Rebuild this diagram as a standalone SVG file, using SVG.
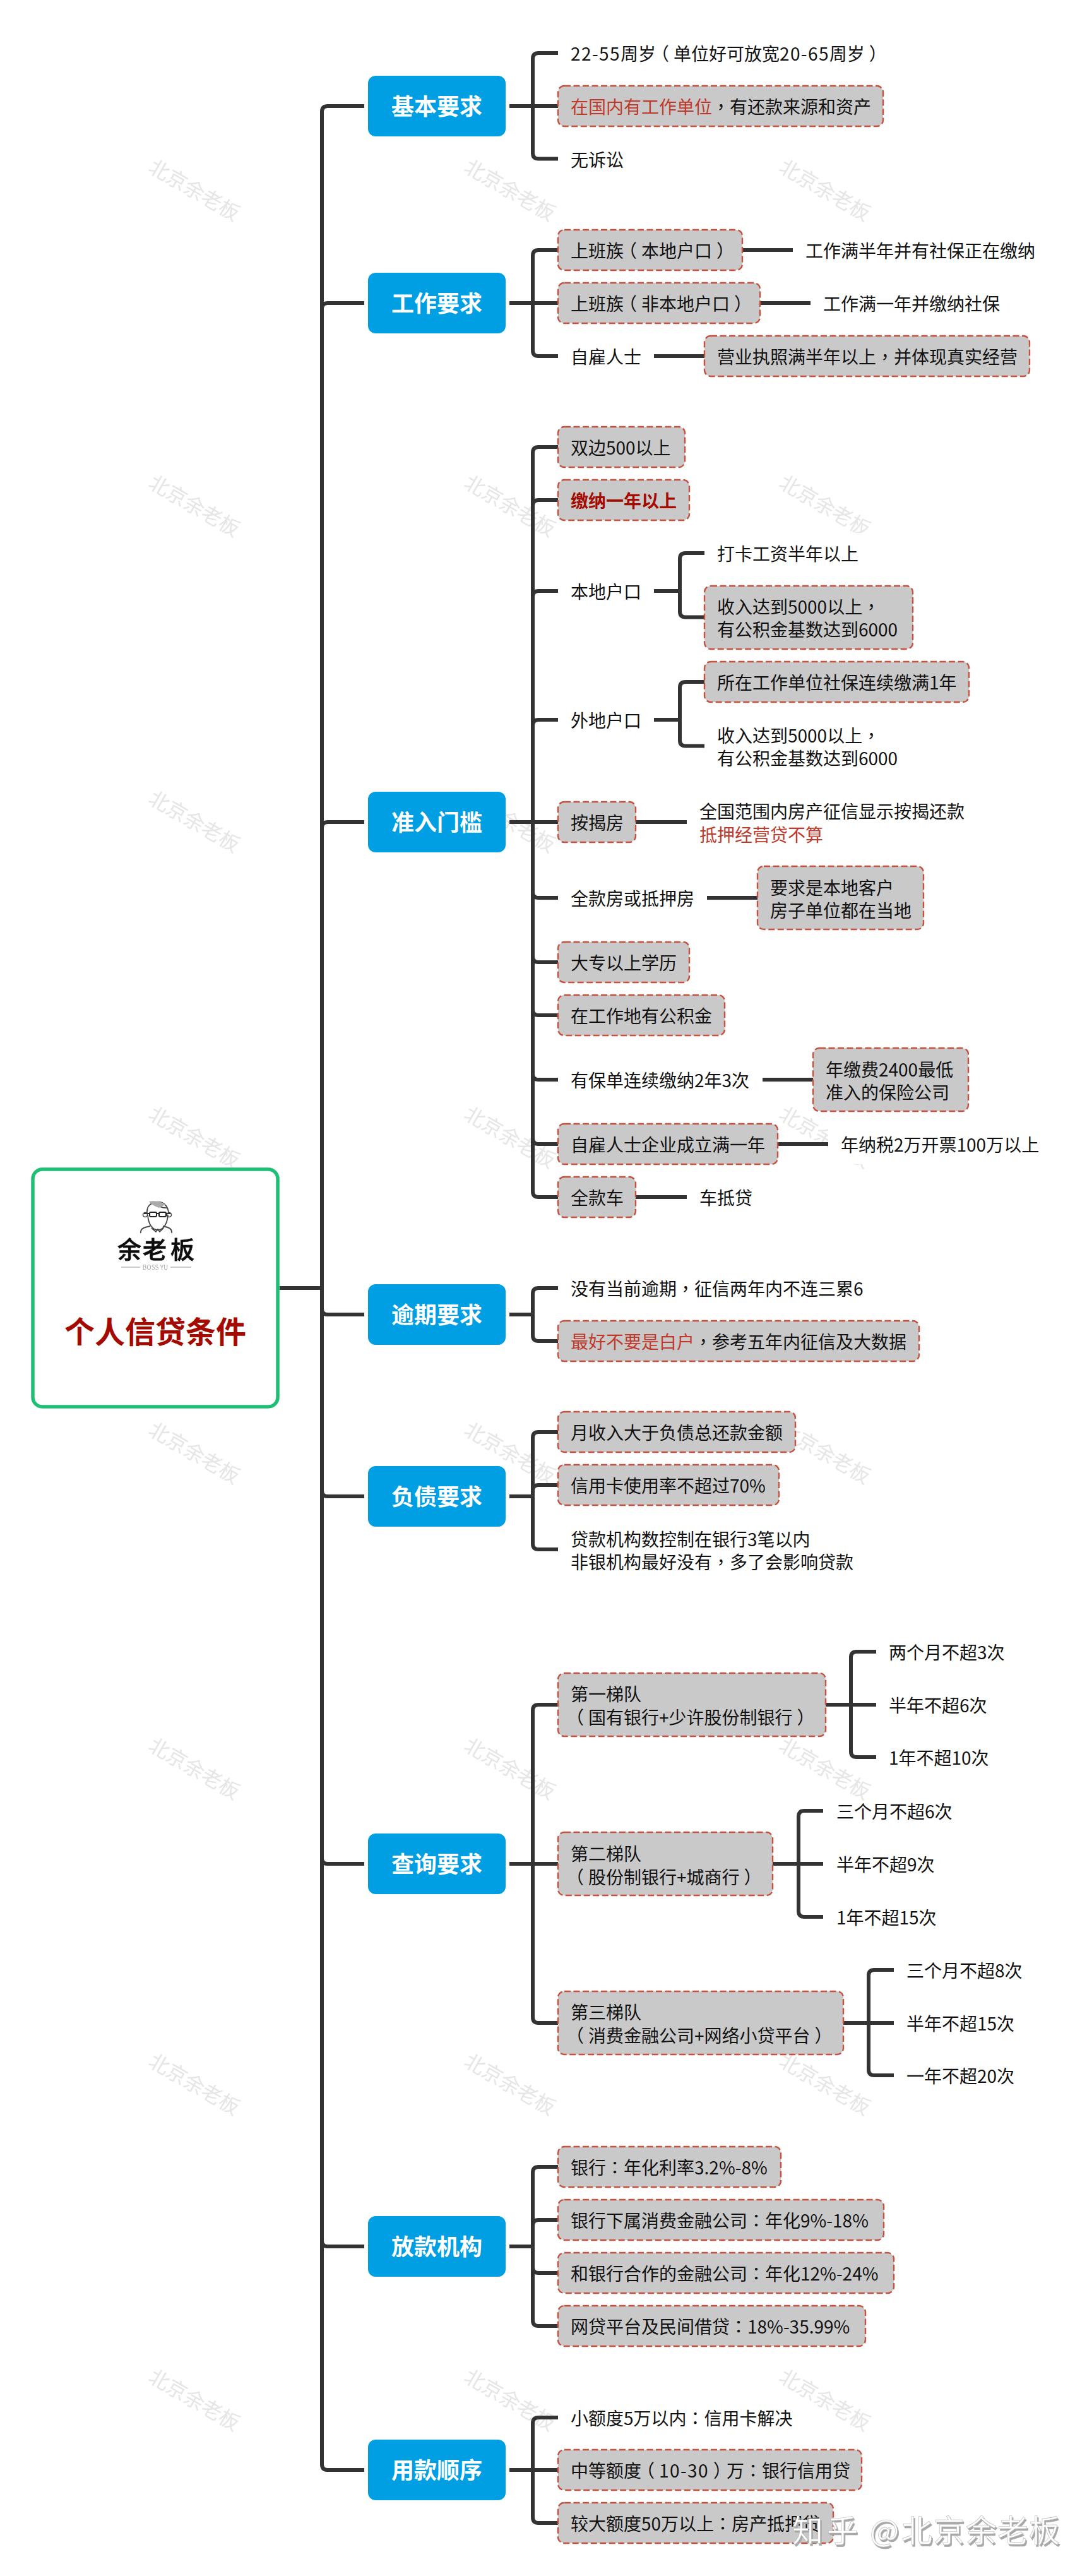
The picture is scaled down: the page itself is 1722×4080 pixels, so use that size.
<svg xmlns="http://www.w3.org/2000/svg" width="1722" height="4080" viewBox="0 0 1722 4080">
<style>
text{font-family:"Noto Sans CJK SC","Liberation Sans",sans-serif;font-size:28px;fill:#111}
.q{font-family:"Noto Sans CJK TC","Noto Sans CJK SC",sans-serif}
.n{letter-spacing:1.4px}
.wm{font-size:32px;fill:#e6e6e6;text-anchor:middle}
.c{fill:none;stroke:#333;stroke-width:6}
.b{fill:#009ee3}
.bt{font-size:36px;font-weight:700;fill:#fff;text-anchor:middle}
.d{fill:#c9c9c9;stroke:#c9503f;stroke-width:2.4;stroke-dasharray:10 4.5}
.p{fill:#fff}
.r{fill:#c0392b}
.zh{font-size:49px;fill:#fff;stroke:#b5b5b5;stroke-width:.6;filter:url(#zs)}
</style>
<defs>
<filter id="zs" x="-5%" y="-20%" width="110%" height="140%"><feDropShadow dx="2" dy="3" stdDeviation="0" flood-color="#a8a8a8"/></filter>
<filter id="soft" x="-10%" y="-10%" width="120%" height="120%"><feGaussianBlur stdDeviation="0.5"/></filter>
</defs>
<rect width="1722" height="4080" fill="#fff"/>
<g id="watermarks">
<text class="wm" transform="translate(302 311) rotate(30)">北京余老板</text><text class="wm" transform="translate(802 311) rotate(30)">北京余老板</text><text class="wm" transform="translate(1301 311) rotate(30)">北京余老板</text>
<text class="wm" transform="translate(302 811) rotate(30)">北京余老板</text><text class="wm" transform="translate(802 811) rotate(30)">北京余老板</text><text class="wm" transform="translate(1301 811) rotate(30)">北京余老板</text>
<text class="wm" transform="translate(302 1311) rotate(30)">北京余老板</text><text class="wm" transform="translate(802 1311) rotate(30)">北京余老板</text><text class="wm" transform="translate(1301 1311) rotate(30)">北京余老板</text>
<text class="wm" transform="translate(302 1811) rotate(30)">北京余老板</text><text class="wm" transform="translate(802 1811) rotate(30)">北京余老板</text><text class="wm" transform="translate(1301 1811) rotate(30)">北京余老板</text>
<text class="wm" transform="translate(302 2311) rotate(30)">北京余老板</text><text class="wm" transform="translate(802 2311) rotate(30)">北京余老板</text><text class="wm" transform="translate(1301 2311) rotate(30)">北京余老板</text>
<text class="wm" transform="translate(302 2811) rotate(30)">北京余老板</text><text class="wm" transform="translate(802 2811) rotate(30)">北京余老板</text><text class="wm" transform="translate(1301 2811) rotate(30)">北京余老板</text>
<text class="wm" transform="translate(302 3311) rotate(30)">北京余老板</text><text class="wm" transform="translate(802 3311) rotate(30)">北京余老板</text><text class="wm" transform="translate(1301 3311) rotate(30)">北京余老板</text>
<text class="wm" transform="translate(302 3811) rotate(30)">北京余老板</text><text class="wm" transform="translate(802 3811) rotate(30)">北京余老板</text><text class="wm" transform="translate(1301 3811) rotate(30)">北京余老板</text>
</g>
<g id="connectors">
<path class="c" d="M443 2040H510M577 168H519Q510 168 510 177V3903Q510 3912 519 3912H577"/>
<path class="c" d="M510 489Q510 480 519 480H577M510 1311Q510 1302 519 1302H577M510 2073Q510 2082 519 2082H577M510 2361Q510 2370 519 2370H577M510 2943Q510 2952 519 2952H577M510 3549Q510 3558 519 3558H577"/>
<path class="c" d="M807 168H884M884 84H853Q844 84 844 93V242.500Q844 251.500 853 251.500H884"/>
<path class="c" d="M807 480H884M884 396H853Q844 396 844 405V555Q844 564 853 564H884M1176 396H1256M1204 480H1284M1036 564H1116"/>
<path class="c" d="M807 1302H884M884 708H853Q844 708 844 717V1887Q844 1896 853 1896H884M844 801Q844 792 853 792H884M844 945Q844 936 853 936H884M844 1149Q844 1140 853 1140H884M844 1413Q844 1422 853 1422H884M844 1515Q844 1524 853 1524H884M844 1599Q844 1608 853 1608H884M844 1701Q844 1710 853 1710H884M844 1803Q844 1812 853 1812H884"/>
<path class="c" d="M1036 936H1077M1116 876H1086Q1077 876 1077 885V968.500Q1077 977.500 1086 977.500H1116M1036 1140H1077M1116 1080H1086Q1077 1080 1077 1089V1172.500Q1077 1181.500 1086 1181.500H1116"/>
<path class="c" d="M1007 1302H1088M1120 1422H1200M1208 1710H1288M1232 1812H1312M1007 1896H1088"/>
<path class="c" d="M807 2082H844M884 2040H853Q844 2040 844 2049V2115Q844 2124 853 2124H884"/>
<path class="c" d="M807 2370H844M884 2268H853Q844 2268 844 2277V2445Q844 2454 853 2454H884M844 2361Q844 2352 853 2352H884"/>
<path class="c" d="M807 2952H884M884 2700H853Q844 2700 844 2709V3195Q844 3204 853 3204H884"/>
<path class="c" d="M1307 2700H1388M1388 2616H1357Q1348 2616 1348 2625V2774Q1348 2783 1357 2783H1388"/>
<path class="c" d="M1224 2952H1304M1304 2868H1274Q1265 2868 1265 2877V3027Q1265 3036 1274 3036H1304"/>
<path class="c" d="M1336 3204H1416M1416 3120H1385Q1376 3120 1376 3129V3278Q1376 3287 1385 3287H1416"/>
<path class="c" d="M807 3558H844M884 3432H853Q844 3432 844 3441V3675Q844 3684 853 3684H884M844 3525Q844 3516 853 3516H884M844 3591Q844 3600 853 3600H884"/>
<path class="c" d="M807 3912H884M884 3829H853Q844 3829 844 3838V3987Q844 3996 853 3996H884"/>
</g>
<g id="root">
<rect x="52" y="1852" width="388" height="376" rx="15" fill="#fff" stroke="#1fbf75" stroke-width="5.500"/>
<g id="logo" filter="url(#soft)">
<path d="M233 1922C232 1910 238 1906 247 1904C258 1902 267 1910 267 1922M242 1903C248 1910 258 1914 265 1913M234 1924C235 1940 242 1948 250 1948C258 1948 265 1940 266 1924" fill="none" stroke="#444" stroke-width="1.800"/>
<path d="M236 1903C244 1901 256 1903 262 1908L252 1913C246 1911 240 1908 236 1903Z" fill="#aaa"/>
<rect x="237" y="1920" width="11" height="7" rx="2" fill="none" stroke="#222" stroke-width="2"/>
<rect x="252" y="1920" width="11" height="7" rx="2" fill="none" stroke="#222" stroke-width="2"/>
<path d="M248 1922H252M237 1922H228M263 1922H270" stroke="#222" stroke-width="1.800" fill="none"/>
<circle cx="230" cy="1924" r="3.500" fill="none" stroke="#444" stroke-width="1.500"/><circle cx="268" cy="1924" r="3.500" fill="none" stroke="#444" stroke-width="1.500"/>
<path d="M223 1953C222 1946 228 1944 238 1942M272 1953C273 1946 267 1944 258 1942M240 1945L247 1951L250 1947L253 1951L259 1945" fill="none" stroke="#444" stroke-width="1.800"/>
<text x="186 226 270" y="1993" style="font-size:38px;font-weight:500;fill:#111;stroke:#111;stroke-width:.7">余老板</text>
<path d="M192 2007H222M270 2007H303" stroke="#999" stroke-width="1.200"/>
<text x="246" y="2011" style="font-size:10px;fill:#aaa;text-anchor:middle">BOSS YU</text>
</g>
<text x="246" y="2127" style="font-size:48px;font-weight:700;fill:#a50a00;text-anchor:middle">个人信贷条件</text>
</g>

<g id="b1"><rect class="b" x="583" y="120" width="218" height="96" rx="12"/><text class="bt" x="692" y="182">基本要求</text></g>
<g id="n1a"><rect class="p" x="884" y="52" width="516" height="64"/><text x="904" y="96"><tspan class="n">22-55</tspan>周岁<tspan dx="-7">（</tspan><tspan dx="7">单</tspan>位好可放宽<tspan class="n">20-65</tspan>周岁<tspan dx="7">）</tspan></text></g>
<g id="n1b"><rect class="d" x="884" y="136" width="515" height="64" rx="10"/><text x="904" y="180"><tspan class="r">在国内有工作单位</tspan><tspan class="q">，</tspan>有还款来源和资产</text></g>
<g id="n1c"><rect class="p" x="884" y="220" width="132" height="64"/><text x="904" y="264">无诉讼</text></g>

<g id="b2"><rect class="b" x="583" y="432" width="218" height="96" rx="12"/><text class="bt" x="692" y="494">工作要求</text></g>
<g id="n2a"><rect class="d" x="884" y="364" width="292" height="64" rx="10"/><text x="904" y="408">上班族<tspan dx="-7">（</tspan><tspan dx="7">本</tspan>地户口<tspan dx="7">）</tspan></text></g>
<g id="n2a1"><text x="1276" y="408">工作满半年并有社保正在缴纳</text></g>
<g id="n2b"><rect class="d" x="884" y="448" width="320" height="64" rx="10"/><text x="904" y="492">上班族<tspan dx="-7">（</tspan><tspan dx="7">非</tspan>本地户口<tspan dx="7">）</tspan></text></g>
<g id="n2b1"><text x="1304" y="492">工作满一年并缴纳社保</text></g>
<g id="n2c"><text x="904" y="576">自雇人士</text></g>
<g id="n2c1"><rect class="d" x="1116" y="532" width="515" height="64" rx="10"/><text x="1136" y="576">营业执照满半年以上<tspan class="q">，</tspan>并体现真实经营</text></g>

<g id="b3"><rect class="b" x="583" y="1254" width="218" height="96" rx="12"/><text class="bt" x="692" y="1316">准入门槛</text></g>
<g id="n3a"><rect class="d" x="884" y="676" width="201" height="64" rx="10"/><text x="904" y="720">双边500以上</text></g>
<g id="n3b"><rect class="d" x="884" y="760" width="208" height="64" rx="10"/><text x="904" y="804" style="font-weight:700;fill:#a50a00">缴纳一年以上</text></g>
<g id="n3c"><rect class="p" x="884" y="904" width="152" height="64"/><text x="904" y="948">本地户口</text></g>
<g id="n3c1"><rect class="p" x="1116" y="844" width="320" height="64"/><text x="1136" y="888">打卡工资半年以上</text></g>
<g id="n3c2"><rect class="d" x="1116" y="928" width="330" height="100" rx="10"/><text x="1136" y="972">收入达到5000以上<tspan class="q">，</tspan></text><text x="1136" y="1008">有公积金基数达到6000</text></g>
<g id="n3d"><rect class="p" x="884" y="1108" width="152" height="64"/><text x="904" y="1152">外地户口</text></g>
<g id="n3d1"><rect class="d" x="1116" y="1048" width="419" height="64" rx="10"/><text x="1136" y="1092">所在工作单位社保连续缴满1年</text></g>
<g id="n3d2"><rect class="p" x="1116" y="1132" width="330" height="100"/><text x="1136" y="1176">收入达到5000以上<tspan class="q">，</tspan></text><text x="1136" y="1212">有公积金基数达到6000</text></g>
<g id="n3e"><rect class="d" x="884" y="1270" width="123" height="64" rx="10"/><text x="904" y="1314">按揭房</text></g>
<g id="n3e1"><rect class="p" x="1088" y="1252" width="460" height="100"/><text x="1108" y="1296">全国范围内房产征信显示按揭还款</text><text class="r" x="1108" y="1333">抵押经营贷不算</text></g>
<g id="n3f"><rect class="p" x="884" y="1390" width="236" height="64"/><text x="904" y="1434">全款房或抵押房</text></g>
<g id="n3f1"><rect class="d" x="1200" y="1372" width="263" height="100" rx="10"/><text x="1220" y="1417">要求是本地客户</text><text x="1220" y="1453">房子单位都在当地</text></g>
<g id="n3g"><rect class="d" x="884" y="1492" width="208" height="64" rx="10"/><text x="904" y="1536">大专以上学历</text></g>
<g id="n3h"><rect class="d" x="884" y="1576" width="264" height="64" rx="10"/><text x="904" y="1620">在工作地有公积金</text></g>
<g id="n3i"><rect class="p" x="884" y="1678" width="324" height="64"/><text x="904" y="1722">有保单连续缴纳2年3次</text></g>
<g id="n3i1"><rect class="d" x="1288" y="1660" width="246" height="100" rx="10"/><text x="1308" y="1705">年缴费2400最低</text><text x="1308" y="1741">准入的保险公司</text></g>
<g id="n3j"><rect class="d" x="884" y="1780" width="348" height="64" rx="10"/><text x="904" y="1824">自雇人士企业成立满一年</text></g>
<g id="n3j1"><rect class="p" x="1312" y="1780" width="358" height="64"/><text x="1332" y="1824">年纳税2万开票100万以上</text></g>
<g id="n3k"><rect class="d" x="884" y="1864" width="123" height="64" rx="10"/><text x="904" y="1908">全款车</text></g>
<g id="n3k1"><text x="1108" y="1908">车抵贷</text></g>

<g id="b4"><rect class="b" x="583" y="2034" width="218" height="96" rx="12"/><text class="bt" x="692" y="2096">逾期要求</text></g>
<g id="n4a"><rect class="p" x="884" y="2008" width="510" height="64"/><text x="904" y="2052">没有当前逾期<tspan class="q">，</tspan>征信两年内不连三累6</text></g>
<g id="n4b"><rect class="d" x="884" y="2092" width="572" height="64" rx="10"/><text x="904" y="2136"><tspan class="r">最好不要是白户</tspan><tspan class="q">，</tspan>参考五年内征信及大数据</text></g>

<g id="b5"><rect class="b" x="583" y="2322" width="218" height="96" rx="12"/><text class="bt" x="692" y="2384">负债要求</text></g>
<g id="n5a"><rect class="d" x="884" y="2236" width="376" height="64" rx="10"/><text x="904" y="2280">月收入大于负债总还款金额</text></g>
<g id="n5b"><rect class="d" x="884" y="2320" width="350" height="64" rx="10"/><text x="904" y="2364">信用卡使用率不超过70%</text></g>
<g id="n5c"><rect class="p" x="884" y="2404" width="490" height="100"/><text x="904" y="2449">贷款机构数控制在银行3笔以内</text><text x="904" y="2485">非银机构最好没有<tspan class="q">，</tspan>多了会影响贷款</text></g>

<g id="b6"><rect class="b" x="583" y="2904" width="218" height="96" rx="12"/><text class="bt" x="692" y="2966">查询要求</text></g>
<g id="n6a"><rect class="d" x="884" y="2650" width="424" height="100" rx="10"/><text x="904" y="2694">第一梯队</text><text x="904" y="2731"><tspan dx="-7">（</tspan><tspan dx="7">国</tspan>有银行+少许股份制银行<tspan dx="7">）</tspan></text></g>
<g id="n6a1"><text x="1408" y="2628">两个月不超3次</text></g>
<g id="n6a2"><text x="1408" y="2712">半年不超6次</text></g>
<g id="n6a3"><text x="1408" y="2795">1年不超10次</text></g>
<g id="n6b"><rect class="d" x="884" y="2902" width="340" height="100" rx="10"/><text x="904" y="2947">第二梯队</text><text x="904" y="2984"><tspan dx="-7">（</tspan><tspan dx="7">股</tspan>份制银行+城商行<tspan dx="7">）</tspan></text></g>
<g id="n6b1"><text x="1325" y="2880">三个月不超6次</text></g>
<g id="n6b2"><text x="1325" y="2964">半年不超9次</text></g>
<g id="n6b3"><text x="1325" y="3048">1年不超15次</text></g>
<g id="n6c"><rect class="d" x="884" y="3154" width="452" height="100" rx="10"/><text x="904" y="3198">第三梯队</text><text x="904" y="3235"><tspan dx="-7">（</tspan><tspan dx="7">消</tspan>费金融公司+网络小贷平台<tspan dx="7">）</tspan></text></g>
<g id="n6c1"><text x="1436" y="3132">三个月不超8次</text></g>
<g id="n6c2"><text x="1436" y="3216">半年不超15次</text></g>
<g id="n6c3"><text x="1436" y="3299">一年不超20次</text></g>

<g id="b7"><rect class="b" x="583" y="3510" width="218" height="96" rx="12"/><text class="bt" x="692" y="3572">放款机构</text></g>
<g id="n7a"><rect class="d" x="884" y="3400" width="353" height="64" rx="10"/><text x="904" y="3444">银行<tspan class="q">：</tspan>年化利率3.2%-8%</text></g>
<g id="n7b"><rect class="d" x="884" y="3484" width="516" height="64" rx="10"/><text x="904" y="3528">银行下属消费金融公司<tspan class="q">：</tspan>年化9%-18%</text></g>
<g id="n7c"><rect class="d" x="884" y="3568" width="532" height="64" rx="10"/><text x="904" y="3612">和银行合作的金融公司<tspan class="q">：</tspan>年化12%-24%</text></g>
<g id="n7d"><rect class="d" x="884" y="3652" width="487" height="64" rx="10"/><text x="904" y="3696">网贷平台及民间借贷<tspan class="q">：</tspan>18%-35.99%</text></g>

<g id="b8"><rect class="b" x="583" y="3864" width="218" height="96" rx="12"/><text class="bt" x="692" y="3926">用款顺序</text></g>
<g id="n8a"><rect class="p" x="884" y="3797" width="392" height="64"/><text x="904" y="3841">小额度5万以内<tspan class="q">：</tspan>信用卡解决</text></g>
<g id="n8b"><rect class="d" x="884" y="3880" width="481" height="64" rx="10"/><text x="904" y="3924">中等额度<tspan dx="-7">（</tspan><tspan dx="7" class="n">10-30</tspan><tspan dx="7">）</tspan><tspan dx="-7">万</tspan><tspan class="q">：</tspan>银行信用贷</text></g>
<g id="n8c"><rect class="d" x="884" y="3964" width="436" height="64" rx="10"/><text x="904" y="4008">较大额度50万以上<tspan class="q">：</tspan>房产抵押贷</text></g>

<text class="zh" x="1255 1310 1360 1378 1428 1479 1530 1580 1630" y="4026">知乎 @北京余老板</text>
</svg>
